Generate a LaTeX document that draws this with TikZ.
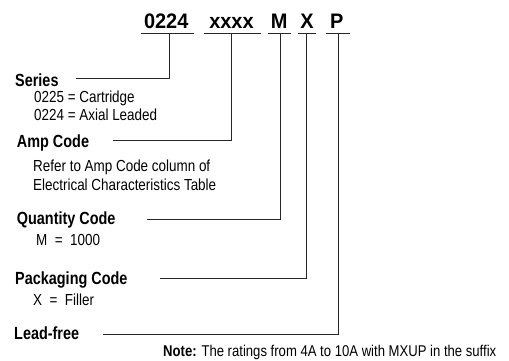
\documentclass[tikz,border=0pt]{standalone}
\usepackage{fontspec}
\setmainfont{Liberation Sans}[FakeStretch=0.84]
\newfontfamily\headfont{Liberation Sans}[FakeStretch=0.82]
\newfontfamily\codefont{Liberation Sans}[FakeStretch=0.95]
\begin{document}
\begin{tikzpicture}[x=1pt,y=-1pt,
  txt/.style={anchor=base west,inner sep=0pt,font=\fontsize{16}{19}\selectfont},
  head/.style={anchor=base west,inner sep=0pt,font=\fontsize{17.6}{20}\selectfont\headfont\bfseries},
  notetxt/.style={anchor=base west,inner sep=0pt,font=\fontsize{15.6}{18}\selectfont},
  code/.style={anchor=base,inner sep=0pt,font=\fontsize{21}{24}\selectfont\codefont\bfseries},
  rule/.style={line width=1pt,black!85},
  conn/.style={line width=1pt,black!85}]
\useasboundingbox (0,0) rectangle (509,360);
% code parts
\node[code] (c1) at (166.2,28) {0224};
\node[code] (c2) at (231.5,28) {xxxx};
\node[code] (c3) at (279.3,28) {M};
\node[code] (c4) at (307,28) {X};
\node[code] (c5) at (336.7,28) {P};
% underlines
\draw[rule] (141,33.7) -- (194,33.7);
\draw[rule] (204,33.7) -- (260.7,33.7);
\draw[rule] (268,33.7) -- (291,33.7);
\draw[rule] (298,33.7) -- (315.7,33.7);
\draw[rule] (326,33.7) -- (350,33.7);
\coordinate (u1) at (169,33.7);
\coordinate (u2) at (231,33.7);
\coordinate (u3) at (280.7,33.7);
\coordinate (u4) at (306,33.7);
\coordinate (u5) at (338.3,33.7);
% labels
\node[head] (series) at (15,86) {Series};
\node[txt] (s1) at (34,102.7) {0225 = Cartridge};
\node[txt] (s2) at (34,120) {0224 = Axial Leaded};
\node[head] (amp) at (16.7,147.5) {Amp Code};
\node[txt] (a1) at (33,171) {Refer to Amp Code column of};
\node[txt] (a2) at (33,190.7) {Electrical Characteristics Table};
\node[head] (qty) at (16.7,224) {Quantity Code};
\node[txt] (q1) at (36,245.7) {M \ = \ 1000};
\node[head] (pkg) at (15,284) {Packaging Code};
\node[txt] (p1) at (33,305.3) {X \ = \ Filler};
\node[head] (lf) at (14,339.5) {Lead-free};
\node[notetxt] (note) at (163,356.6) {\textbf{Note:} The ratings from 4A to 10A with MXUP in the suffix};
% connector start points
\coordinate (e1) at (76,78);
\coordinate (e2) at (113,140.7);
\coordinate (e3) at (146.7,219);
\coordinate (e4) at (160,278.3);
\coordinate (e5) at (103,334);
% connectors
\draw[conn] (u1) |- (e1);
\draw[conn] (u2) |- (e2);
\draw[conn] (u3) |- (e3);
\draw[conn] (u4) |- (e4);
\draw[conn] (u5) |- (e5);
\end{tikzpicture}
\end{document}
